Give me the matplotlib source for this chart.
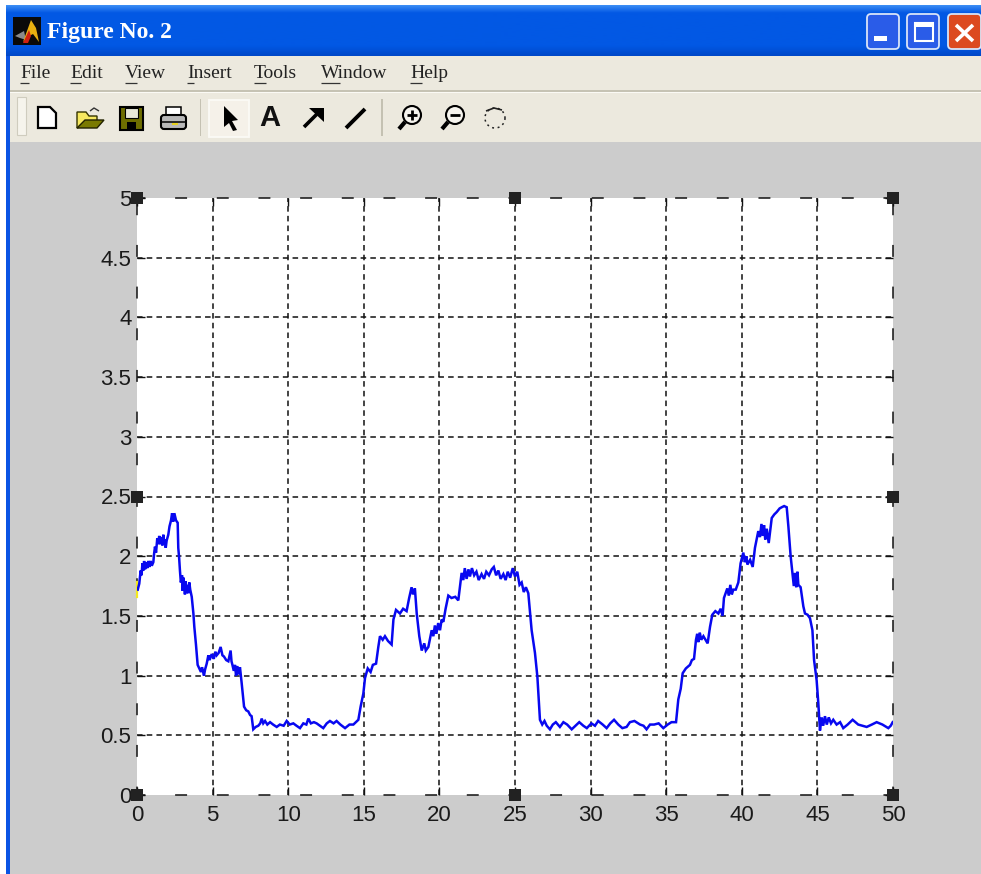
import numpy as np
import matplotlib
matplotlib.use("Agg")
import matplotlib.pyplot as plt
from matplotlib.patches import Rectangle, FancyBboxPatch, Polygon, Circle

plt.rcParams['lines.scale_dashes'] = False

# ---- data: (time, value) ----
burst_1 = [(.05,1.72),(.15,1.77),(.24,1.88),(.30,1.84),(.36,1.94),(.42,1.88),(.47,1.96),(.53,1.89),(.60,1.95),(.68,1.90),(.75,1.96),(.83,1.91),(.90,1.96),(.98,1.92),(1.08,1.95),(1.13,2.02),(1.19,2.08),(1.26,2.03),(1.34,2.15),(1.40,2.10),(1.47,2.17),(1.55,2.10),(1.63,2.16),(1.68,2.09),(1.74,2.18),(1.80,2.10),(1.86,2.14),(1.90,2.07),(1.96,2.13),(2.07,2.18),(2.15,2.25),(2.25,2.30),(2.32,2.36),(2.40,2.29),(2.47,2.36),(2.58,2.30),(2.69,2.28),(2.73,2.07),(2.79,1.98),(2.84,1.88),
(2.90,1.78),(2.98,1.84),(3.02,1.71),(3.08,1.82),(3.17,1.68),(3.22,1.79),(3.28,1.69),(3.33,1.76),(3.40,1.69),(3.46,1.78),(3.52,1.72),(3.62,1.66),(3.73,1.52),(3.79,1.41),(3.90,1.26),(4.01,1.09),(4.12,1.06),(4.23,1.03),(4.30,1.07),(4.43,1.00),(4.50,1.05),(4.61,1.10),(4.72,1.17),(4.80,1.13),(4.94,1.18),(5.08,1.14),(5.18,1.20),(5.27,1.17),(5.40,1.19),(5.53,1.24),(5.65,1.17),(5.75,1.16),(5.90,1.13),(6.04,1.12),(6.19,1.21),(6.25,1.12),(6.31,1.09),(6.40,1.04),(6.48,1.09),(6.55,1.00),(6.62,1.08),(6.70,1.01),(6.81,1.07),(6.92,.94),(7.08,.74),(7.22,.71),(7.36,.70),(7.48,.67),(7.58,.66),(7.69,.55)]
floor_1 = [(7.85,.57),(8.02,.58),(8.15,.60),(8.25,.64),(8.35,.60),(8.47,.62),(8.62,.59),(8.80,.61),(9.00,.59),(9.24,.57),(9.45,.59),(9.70,.58),(9.90,.62),(10.10,.59),(10.34,.60),(10.55,.58),(10.78,.56),(11.00,.60),(11.20,.59),(11.33,.64),(11.50,.60),(11.70,.61),(11.88,.60),(12.10,.58),(12.32,.56),(12.55,.60),(12.76,.62),(13.00,.60),(13.20,.62),(13.45,.59),(13.76,.56),(14.05,.59),(14.31,.59),(14.64,.63)]
burst_2 = [(14.79,.74),(14.97,.85),(15.08,.98),(15.26,1.06),(15.45,1.03),(15.60,1.09),(15.81,1.10),(15.96,1.24),(16.07,1.33),(16.25,1.30),(16.40,1.33),(16.60,1.29),(16.84,1.26),(16.96,1.47),(17.13,1.55),(17.39,1.52),(17.60,1.56),(17.83,1.54),(18.00,1.65),(18.16,1.74),(18.25,1.68),(18.38,1.73),(18.50,1.52),(18.67,1.33),(18.83,1.21),(19.00,1.27),(19.10,1.21),(19.27,1.24),(19.49,1.38),(19.60,1.33),(19.70,1.42),(19.80,1.35),(19.92,1.44),(20.04,1.38),(20.15,1.47),(20.26,1.45),(20.41,1.56),(20.59,1.67),(20.80,1.65),(21.05,1.66),(21.25,1.63),(21.47,1.86),(21.58,1.80),(21.68,1.90),(21.80,1.81),(21.92,1.89),(22.02,1.83),(22.15,1.90),(22.30,1.84),(22.45,1.87),(22.60,1.80),(22.79,1.85),(22.95,1.81),(23.10,1.87),(23.28,1.84),(23.46,1.89),(23.60,1.91),(23.75,1.84),(23.90,1.88),(24.05,1.81),(24.23,1.85),(24.38,1.80),(24.52,1.87),(24.68,1.82),(24.85,1.90),(25.00,1.83),(25.15,1.87),(25.30,1.76),(25.44,1.78),(25.58,1.70),(25.72,1.74),(25.88,1.69),(26.10,1.38),(26.32,1.19),(26.48,.99),(26.65,.63)]
floor_2 = [(26.80,.59),(26.95,.62),(27.10,.58),(27.31,.55),(27.50,.59),(27.70,.61),(27.97,.57),(28.20,.61),(28.45,.59),(28.75,.55),(29.00,.58),(29.25,.61),(29.52,.58),(29.75,.56),(30.05,.60),(30.29,.58),(30.50,.62),(30.80,.59),(31.06,.56),(31.30,.60),(31.55,.63),(31.83,.59),(32.10,.56),(32.38,.57),(32.60,.61),(32.90,.62),(33.27,.59),(33.50,.58),(33.70,.55),(33.93,.59),(34.20,.59),(34.50,.60),(34.81,.56),(35.10,.59),(35.35,.61),(35.65,.61)]
burst_3 = [(35.80,.80),(35.96,.89),(36.09,1.02),(36.30,1.06),(36.57,1.09),(36.70,1.13),(36.84,1.14),(36.97,1.30),(37.05,1.35),(37.12,1.28),(37.22,1.36),(37.32,1.30),(37.46,1.33),(37.60,1.30),(37.74,1.27),(37.90,1.41),(38.05,1.51),(38.25,1.54),(38.45,1.52),(38.60,1.56),(38.73,1.50),(38.82,1.65),(39.04,1.73),(39.14,1.67),(39.24,1.76),(39.34,1.68),(39.44,1.72),(39.60,1.72),(39.77,1.78),(39.92,1.94),(40.10,2.03),(40.20,1.95),(40.30,2.00),(40.37,1.93),(40.55,1.97),(40.72,1.91),(40.87,2.07),(41.09,2.21),(41.20,2.16),(41.30,2.27),(41.40,2.17),(41.47,2.26),(41.55,2.14),(41.65,2.23),(41.78,2.11),(41.98,2.32),(42.15,2.35),(42.31,2.37),(42.50,2.40),(42.64,2.41),(42.80,2.42),(42.97,2.41),(43.08,2.25),(43.23,2.00),(43.34,1.87),(43.44,1.75),(43.52,1.86),(43.60,1.74),(43.68,1.87),(43.74,1.76),(43.89,1.74),(44.07,1.58),(44.18,1.52),(44.35,1.51),(44.51,1.48),(44.67,1.38),(44.78,1.13),(44.95,.96),(45.06,.77),(45.17,.54)]
floor_3 = [(45.28,.65),(45.38,.58),(45.50,.66),(45.62,.59),(45.75,.65),(45.90,.60),(46.05,.63),(46.27,.59),(46.50,.61),(46.71,.56),(47.00,.59),(47.33,.63),(47.70,.59),(48.26,.57),(48.60,.59),(48.92,.61),(49.30,.59),(49.69,.56),(49.85,.58),(49.98,.61)]
start_t = [0, 0]
start_v = [1.66, 1.78]
handle_x = [0, 25, 50, 0, 50, 0, 25, 50]
handle_y = [5, 5, 5, 2.5, 2.5, 0, 0, 0]
x_ticks = [0, 5, 10, 15, 20, 25, 30, 35, 40, 45, 50]
y_ticks = [0, 0.5, 1, 1.5, 2, 2.5, 3, 3.5, 4, 4.5, 5]
y_labels = ['0', '0.5', '1', '1.5', '2', '2.5', '3', '3.5', '4', '4.5', '5']
menu_items = ['File', 'Edit', 'View', 'Insert', 'Tools', 'Window', 'Help']
menu_x = [20, 70, 125, 187, 254, 321, 410]
menu_under = [9, 11, 12, 7, 12, 19, 12]
window_title = 'Figure No. 2'

signal_t, signal_v = zip(*(burst_1 + floor_1 + burst_2 + floor_2 + burst_3 + floor_3))

W, H = 981, 874
fig = plt.figure(figsize=(W/100, H/100), dpi=100, facecolor='white')

# ---- window chrome, in pixel coordinates ----
c = fig.add_axes([0, 0, 1, 1], zorder=0)
c.set_xlim(0, W); c.set_ylim(H, 0); c.axis('off')

def rect(x0, y0, x1, y1, fc, ec='none', lw=0, z=1):
    c.add_patch(Rectangle((x0, y0), x1-x0, y1-y0, fc=fc, ec=ec, lw=lw, zorder=z))

def seg(xs, ys, col='black', lw=1.0, z=3, **kw):
    c.plot(xs, ys, color=col, lw=lw, zorder=z, solid_capstyle=kw.pop('cap', 'butt'), **kw)

rect(6, 5, 11, H, '#0A54E4')
rect(10, 142, W, H, '#CCCCCC')
rect(10, 56, W, 142, '#ECE9DE')
top = np.array([0x3A, 0x8C, 0xF4]); mid = np.array([0x02, 0x58, 0xE4]); bot = np.array([0x00, 0x48, 0xC8])
rows = []
for g in np.linspace(0, 1, 50):
    if g < .15:
        rows.append(top + (mid-top)*g/.15)
    elif g < .8:
        rows.append(mid)
    else:
        rows.append(mid + (bot-mid)*(g-.8)/.2)
c.imshow(np.array(rows)[:, None, :]/255, extent=(6, W, 56, 5), aspect='auto', zorder=1)
c.set_xlim(0, W); c.set_ylim(H, 0)

# title icon and text
rect(13, 17, 41, 45, '#0A0A0A', z=2)
c.add_patch(Polygon([[15, 36], [24, 31], [26, 40], [20, 38]], fc='#8A8A8A', zorder=3))
c.add_patch(Polygon([[23, 42], [31, 20], [36, 28], [39, 42], [33, 34], [29, 36]], fc='#E8B010', zorder=3))
c.add_patch(Polygon([[23, 43], [29, 30], [31, 36], [28, 43]], fc='#D02010', zorder=4))
c.text(47, 32.5, window_title, color='white', fontsize=17, fontweight='bold',
       family='Liberation Serif', va='center', ha='left', zorder=4)

# window buttons
def button(x0, x1, col):
    c.add_patch(FancyBboxPatch((x0+2, 16), x1-x0-4, 31, boxstyle='round,pad=2,rounding_size=4',
                               fc=col, ec='#D8E4F8', lw=1.3, zorder=3))
button(867, 899, '#2A5CE8'); button(907, 939, '#2A5CE8'); button(948, 981, '#DC4A20')
rect(874, 36, 887, 41, 'white', z=4)
rect(915, 23, 933, 41, 'none', ec='white', lw=1.5, z=4)
rect(915, 23, 933, 27, 'white', z=4)
seg([956, 973], [25, 41], 'white', 2.6, z=4)
seg([956, 973], [41, 25], 'white', 2.6, z=4)

# menu
for name, x, u in zip(menu_items, menu_x, menu_under):
    c.text(x, 73, name, fontsize=14, family='Liberation Serif', color='#222222',
           va='center', ha='left', zorder=3)
    seg([x, x+u], [83, 83], '#333333', 0.9)
rect(10, 90, W, 91.5, '#C6C3B4', z=2)
rect(10, 91.5, W, 93, '#FBFAF5', z=2)

# toolbar
rect(17, 97, 26, 135, '#F6F4EC', ec='#CFCCBE', lw=.8, z=2)
for sx in (200.5, 382):
    rect(sx-.8, 99, sx+.8, 136, '#C4C1B2', z=2)
# new
c.add_patch(Polygon([[38, 107], [50, 107], [56, 113], [56, 128], [38, 128]], fc='white', ec='black', lw=1.6, zorder=3))
# open
c.add_patch(Polygon([[77, 112], [86, 112], [89, 116], [97, 116], [97, 121], [77, 128]], fc='#F6E860', ec='#333300', lw=1, zorder=3))
c.add_patch(Polygon([[77, 128], [85, 120], [104, 120], [97, 128]], fc='#7A7A00', ec='#222200', lw=1, zorder=4))
seg([90, 94, 99], [111, 108, 111], '#333333', 1.0)
# save
rect(120, 107, 143, 130, '#6E6E00', ec='black', lw=1.5, z=3)
rect(125, 108, 138, 118, '#E8E8D8', ec='black', lw=.8, z=4)
rect(127, 122, 136, 130, 'black', z=4)
# print
rect(166, 107, 181, 116, 'white', ec='black', lw=1.1, z=3)
c.add_patch(FancyBboxPatch((161, 115), 25, 14, boxstyle='round,pad=0,rounding_size=3', fc='#B8B8B8', ec='black', lw=1.5, zorder=4))
seg([161, 186], [122, 122], 'black', 1.1, z=5)
rect(172, 123, 178, 125, '#E6D020', z=5)
# pointer (selected)
rect(208.5, 99.5, 249, 136.5, '#F5F1E9', ec='#FBFAF6', lw=1.3, z=2)
c.add_patch(Polygon([[224, 106], [238, 120], [232, 121], [237, 130], [233, 131], [229, 123], [224, 127]], fc='black', zorder=3))
c.text(270, 118, 'A', fontsize=21, fontweight='bold', family='Liberation Sans', color='#111111', va='center', ha='center', zorder=3)
# annotation arrow and line
seg([304, 320], [127, 111], 'black', 2.6)
c.add_patch(Polygon([[309, 108], [324, 108], [324, 122]], fc='black', zorder=3))
seg([346, 365], [128, 109], 'black', 2.8)
# zoom tools
for cx, minus in ((412, False), (455, True)):
    c.add_patch(Circle((cx, 115), 9, fc='#F6F4EE', ec='black', lw=1.5, zorder=3))
    seg([cx-7, cx-13], [122, 129], 'black', 3.0)
    seg([cx-5, cx+5], [115, 115], 'black', 2.0, z=4)
    if not minus:
        seg([cx, cx], [110, 120], 'black', 2.0, z=4)
# rotate
theta = np.linspace(0, 2*np.pi, 100)
c.plot(495+10*np.cos(theta), 118+10*np.sin(theta), color='#222222', lw=1.1, ls=(0, (1.4, 2.6)), zorder=3)
seg([486, 494, 502], [111, 108, 110], '#222222', 1.2)

# ---- the plot ----
left, right, top_px, bot_px = 137, 893, 198, 795
ax = fig.add_axes([left/W, 1-bot_px/H, (right-left)/W, (bot_px-top_px)/H], zorder=2)
ax.set_facecolor('white')
ax.set_xlim(0, 50); ax.set_ylim(0, 5)
ax.set_xticks(x_ticks); ax.set_yticks(y_ticks); ax.set_yticklabels(y_labels)
ax.grid(True, color='#111111', lw=1.1, ls=(0, (4.0, 3.0)))
ax.set_axisbelow(True)
for gl in (ax.get_xgridlines()[0], ax.get_xgridlines()[-1], ax.get_ygridlines()[0], ax.get_ygridlines()[-1]):
    gl.set_visible(False)
ax.tick_params(axis='both', which='major', direction='in', length=5.5, width=1.0, color='#111111',
               top=True, right=True, labelsize=16, labelcolor='#1A1A1A')
ax.tick_params(axis='x', pad=7)
ax.tick_params(axis='y', pad=4)
for lab in ax.get_xticklabels() + ax.get_yticklabels():
    lab.set_family('Liberation Sans')
for s in ax.spines.values():
    s.set_linestyle((2, (7.5, 22.5)))
    s.set_linewidth(1.1)
    s.set_edgecolor('#111111')

ax.plot(start_t, start_v, color='#F2E820', lw=1.6, clip_on=False, zorder=3)
ax.plot(signal_t, signal_v, color='#0808F0', lw=1.8, solid_joinstyle='miter', zorder=4)
ax.scatter(handle_x, handle_y, marker='s', s=85, color='#222222', clip_on=False, zorder=5, linewidths=0)

fig.savefig('out.png', dpi=100, facecolor='white')
